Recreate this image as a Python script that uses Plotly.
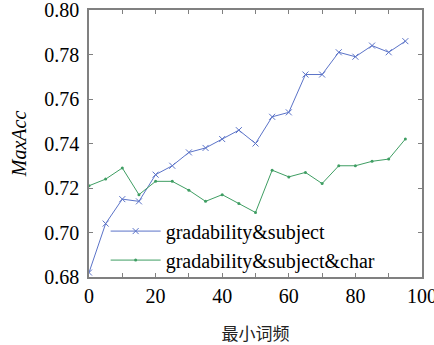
import plotly.graph_objects as go

x_vals = [0, 5, 10, 15, 20, 25, 30, 35, 40, 45, 50, 55, 60, 65, 70, 75, 80, 85, 90, 95]
subj = [0.682, 0.704, 0.715, 0.714, 0.726, 0.730, 0.736, 0.738, 0.742, 0.746,
        0.740, 0.752, 0.754, 0.771, 0.771, 0.781, 0.779, 0.784, 0.781, 0.786]
subj_char = [0.721, 0.724, 0.729, 0.717, 0.723, 0.723, 0.719, 0.714, 0.717, 0.713,
             0.709, 0.728, 0.725, 0.727, 0.722, 0.730, 0.730, 0.732, 0.733, 0.742]
x_ticks = [0, 20, 40, 60, 80, 100]
y_ticks = [0.68, 0.70, 0.72, 0.74, 0.76, 0.78, 0.80]

blue = "#5b73c8"
green = "#3f9e63"
SERIF = "Liberation Serif"

fig = go.Figure()
fig.add_trace(go.Scatter(
    x=x_vals, y=subj, mode="lines+markers", name="gradability&subject",
    line=dict(color=blue, width=1),
    marker=dict(symbol="x-thin", size=6, line=dict(color=blue, width=1), color=blue),
))
fig.add_trace(go.Scatter(
    x=x_vals, y=subj_char, mode="lines+markers", name="gradability&subject&char",
    line=dict(color=green, width=1),
    marker=dict(symbol="circle", size=3, color=green),
))

axis_common = dict(
    showgrid=False, zeroline=False, showline=True, mirror="ticks",
    linecolor="#808080", linewidth=1.5, ticks="inside", ticklen=4,
    tickcolor="#808080", tickwidth=1, ticklabeloverflow="allow",
    automargin=False,
    tickfont=dict(family=SERIF, size=20, color="black"),
)

fig.update_layout(
    width=434, height=345,
    margin=dict(l=89, r=12, t=10, b=68, autoexpand=False),
    plot_bgcolor="white", paper_bgcolor="white",
    font=dict(family=SERIF),
    showlegend=True,
    legend=dict(
        x=0.05, y=0.245, xanchor="left", yanchor="top",
        bgcolor="rgba(0,0,0,0)", borderwidth=0,
        font=dict(family=SERIF, size=20, color="black"),
        tracegroupgap=0, itemwidth=50,
    ),
    xaxis=dict(
        range=[0, 100], tickvals=x_ticks, ticktext=[str(v) for v in x_ticks],
        minor=dict(dtick=10, ticks="inside", ticklen=4, tickcolor="#808080"),
        title=dict(text="最小词频", font=dict(family="Noto Sans CJK SC", size=17, color="#222"), standoff=22),
        **axis_common,
    ),
    yaxis=dict(
        range=[0.68, 0.80], tickvals=y_ticks, ticktext=[f"{v:.2f}" for v in y_ticks],
        ticklabelstandoff=4,
        title=dict(text="<i>MaxAcc</i>", font=dict(family=SERIF, size=20, color="black"), standoff=12),
        **axis_common,
    ),
)

fig.write_html("out.html", config={"displayModeBar": False},
               post_script="document.body.style.margin='0';")
